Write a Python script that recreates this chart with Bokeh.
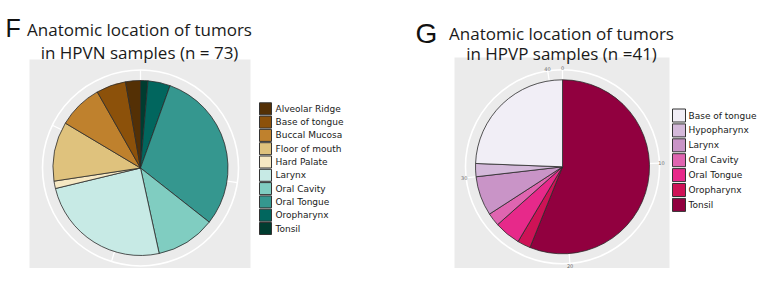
import numpy as np
from bokeh.plotting import figure
from bokeh.models import Range1d
from bokeh.core.properties import value
from bokeh.embed import file_html
from bokeh.resources import INLINE

# ---- data ----
hpvn_sites = ["Alveolar Ridge", "Base of tongue", "Buccal Mucosa", "Floor of mouth",
              "Hard Palate", "Larynx", "Oral Cavity", "Oral Tongue", "Oropharynx", "Tonsil"]
hpvn_counts = [2, 4, 6, 8, 1, 18, 8, 22, 3, 1]
hpvn_colors = ["#543005", "#8c510a", "#bf812d", "#dfc27d", "#f6e8c3",
               "#c7eae5", "#80cdc1", "#35978f", "#01665e", "#003c30"]
hpvn_breaks = [0, 20, 40, 60]

hpvp_sites = ["Base of tongue", "Hypopharynx", "Larynx", "Oral Cavity",
              "Oral Tongue", "Oropharynx", "Tonsil"]
hpvp_counts = [10, 1, 3, 1, 2, 1, 23]
hpvp_colors = ["#f1eef6", "#d4b9da", "#c994c7", "#df65b0", "#e7298a", "#ce1256", "#91003f"]
hpvp_breaks = [0, 10, 20, 30, 40]

titles_left = ["Anatomic location of tumors", "in HPVN samples (n = 73)"]
titles_right = ["Anatomic location of tumors", "in HPVP samples (n =41)"]

W, H = 761, 268
p = figure(width=W, height=H, output_backend="svg", toolbar_location=None,
           x_range=Range1d(0, W), y_range=Range1d(0, H), min_border=0)
p.axis.visible = False
p.grid.visible = False
p.outline_line_color = None
p.background_fill_color = "white"


def Y(img_y):
    return H - img_y


def draw_pie(cx, cy, r, ring_r, panel, counts, colors, breaks, show_labels):
    l, rt, t, b = panel
    p.quad(left=l, right=rt, top=Y(t), bottom=Y(b), fill_color="#ebebeb", line_color=None)
    total = sum(counts)
    # theta grid lines + outer ring
    xs0, ys0, xs1, ys1 = [], [], [], []
    for br in breaks:
        th = 2 * np.pi * br / total
        xs0.append(cx); ys0.append(Y(cy))
        xs1.append(cx + ring_r * np.sin(th)); ys1.append(Y(cy) + ring_r * np.cos(th))
    p.segment(x0=xs0, y0=ys0, x1=xs1, y1=ys1, line_color="white", line_width=1.2)
    p.scatter(x=[cx], y=[Y(cy)], size=2 * ring_r, marker="circle", fill_color=None,
              line_color="white", line_width=1.6)
    if show_labels:
        lx, ly, lt = [], [], []
        for br in breaks:
            th = 2 * np.pi * br / total
            lx.append(cx + (ring_r + 2) * np.sin(th))
            ly.append(Y(cy) + (ring_r + 2) * np.cos(th))
            lt.append(str(br))
        p.text(x=lx, y=ly, text=lt, text_font_size="5px", text_color="#6e6e6e",
               text_align="center", text_baseline="middle", text_font=value("DejaVu Sans"))
    # wedges: last level first, clockwise from 12 o'clock
    starts, ends, cols = [], [], []
    cum = 0
    for i in reversed(range(len(counts))):
        a0 = cum / total * 2 * np.pi
        cum += counts[i]
        a1 = cum / total * 2 * np.pi
        starts.append(np.pi / 2 - a0)
        ends.append(np.pi / 2 - a1)
        cols.append(colors[i])
    p.wedge(x=[cx] * len(cols), y=[Y(cy)] * len(cols), radius=r,
            start_angle=starts, end_angle=ends, direction="clock",
            fill_color=cols, line_color="#2b2b2b", line_width=0.8)


def draw_legend(x0, size, y0, step, sites, colors, fs, tx):
    n = len(sites)
    ys = [Y(y0 + step * i) for i in range(n)]
    p.rect(x=[x0 + size / 2] * n, y=ys, width=size, height=size, fill_color=colors,
           line_color="#333333", line_width=1)
    p.text(x=[tx] * n, y=ys, text=sites, text_font=value("DejaVu Sans"),
           text_font_size=fs, text_color="#1a1a1a", text_baseline="middle")


def draw_title(letter, lx, lby, lsize, lines, cx, b1, b2, tsize):
    p.text(x=[lx], y=[Y(lby)], text=[letter], text_font=value("Liberation Sans"),
           text_font_size=lsize, text_color="#111111", text_baseline="alphabetic")
    p.text(x=[cx, cx], y=[Y(b1), Y(b2)], text=lines, text_font=value("Open Sans"),
           text_font_size=tsize, text_color="#1a1a1a", text_align="center",
           text_baseline="alphabetic")


draw_pie(140, 167.5, 87.5, 98, (29, 250, 59, 278), hpvn_counts, hpvn_colors, hpvn_breaks, False)
draw_pie(562, 166.3, 87, 97, (454, 669, 57, 273), hpvp_counts, hpvp_colors, hpvp_breaks, True)

draw_legend(259, 12, 108.3, 13.3, hpvn_sites, hpvn_colors, "9px", 275)
draw_legend(672, 13, 115, 14.9, hpvp_sites, hpvp_colors, "9px", 688)

draw_title("F", 5, 27, "25px", titles_left, 139, 29, 52, "17px")
draw_title("G", 415, 33, "28px", titles_right, 561, 33, 53, "17px")

open("out.html", "w").write(file_html(p, INLINE))
